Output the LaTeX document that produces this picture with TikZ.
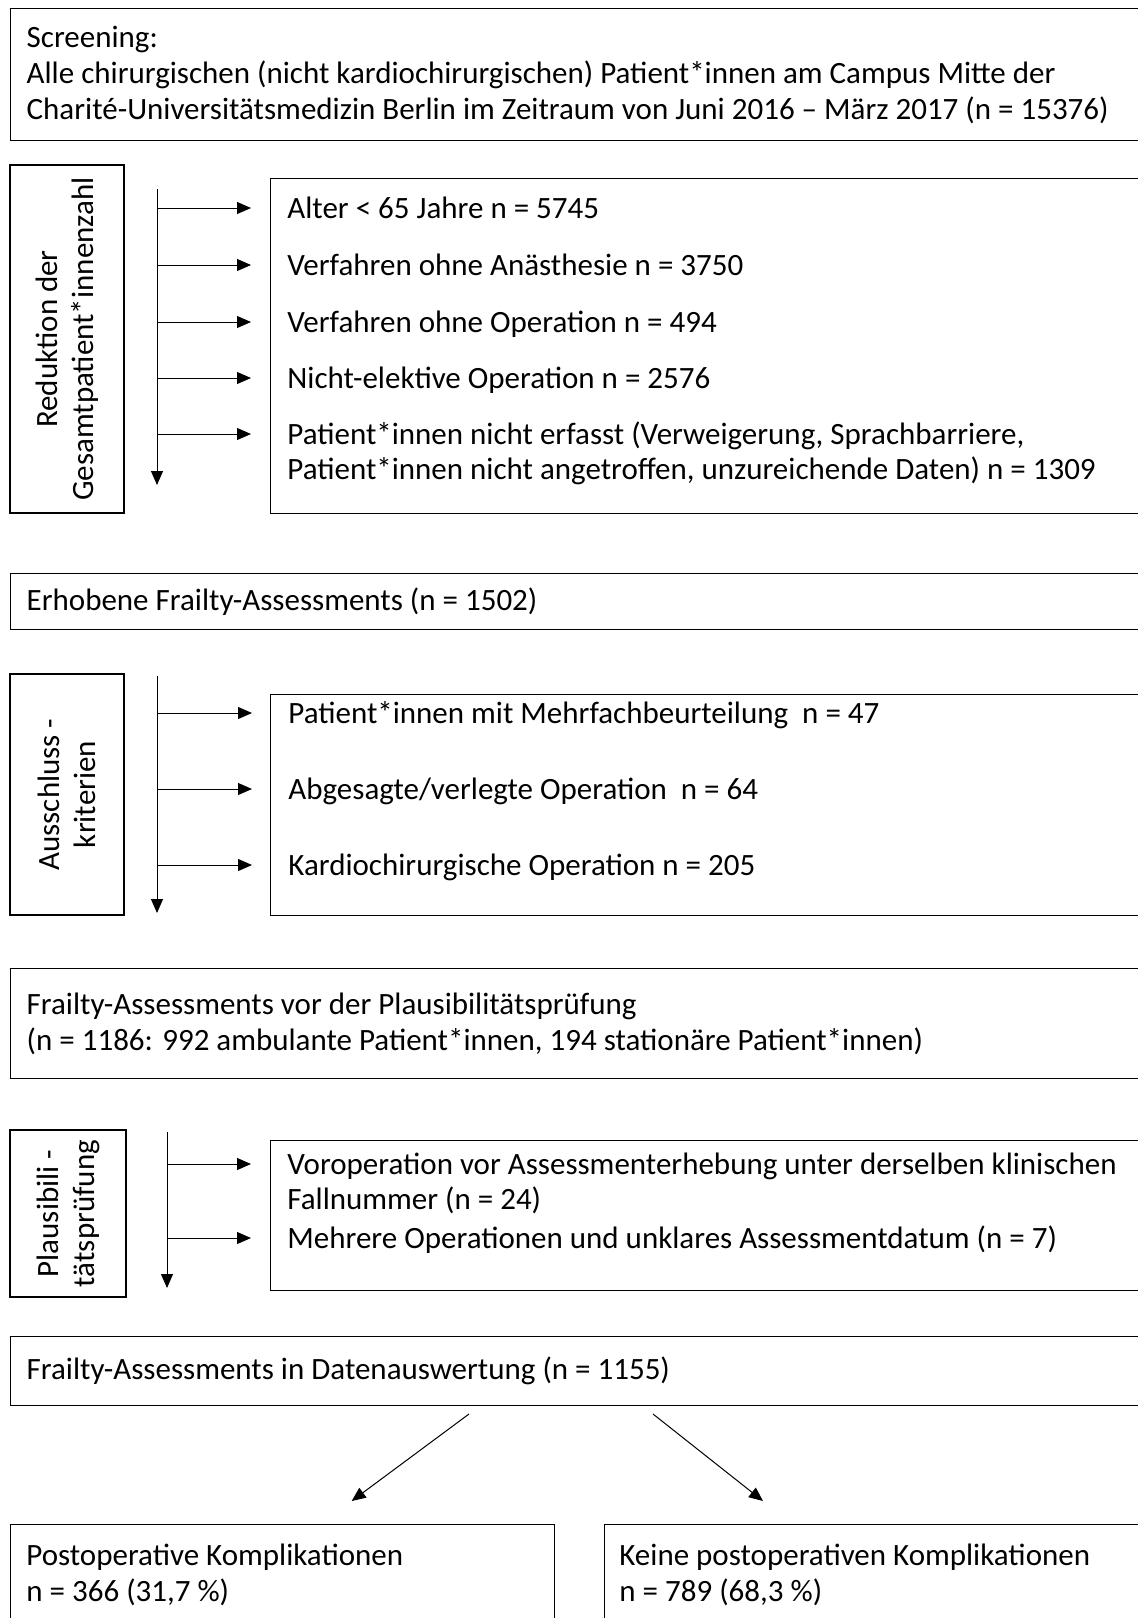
\documentclass[tikz,border=0pt]{standalone}
\usepackage{fontspec}
\setmainfont{Carlito}
\usepackage{tikz}
\usetikzlibrary{arrows.meta,positioning,calc}

\begin{document}
\begin{tikzpicture}[x=0.5pt, y=-0.5pt,
    font=\fontsize{15.5}{18}\selectfont,
    box/.style={draw, line width=0.7pt, anchor=north west, inner xsep=8pt,
        align=flush left, minimum width=600pt, text width=584pt},
    frame/.style={draw, line width=0.7pt, anchor=north west, inner sep=0pt},
    side/.style={draw, line width=0.7pt, rotate=90, align=center, inner sep=0pt},
    item/.style={anchor=west, inner sep=0pt, text height=12pt, text depth=1.5pt},
    arr/.style={-{Triangle[length=7pt,width=6pt]}, line width=0.5pt},
    feed/.style={arr, shorten >=18pt}]

    \useasboundingbox (0,0) rectangle (1138,1618);
    \clip (0,0) rectangle (1138,1618);

    % Screening
    \node[box, minimum height=66pt] (screen) at (10,8)
        {Screening:\\
         Alle chirurgischen (nicht kardiochirurgischen) Patient*innen am Campus Mitte der\\
         Charité-Universitätsmedizin Berlin im Zeitraum von Juni 2016 – März 2017 (n = 15376)};

    % Reduktion
    \node[side, minimum width=174pt, minimum height=57pt] (redlab) at (67,339)
        {Reduktion der\\Gesamtpatient*innenzahl};
    \coordinate (trA) at (157,189);
    \coordinate (trAend) at (157,485);
    \draw[arr] (trA) -- (trAend);
    \node[frame, minimum width=450pt, minimum height=167.5pt] (exA) at (270,178) {};
    \node[item] (a1) at (287,208) {Alter < 65 Jahre n = 5745};
    \node[item] (a2) at (287,265) {Verfahren ohne Anästhesie n = 3750};
    \node[item] (a3) at (287,322) {Verfahren ohne Operation n = 494};
    \node[item] (a4) at (287,378) {Nicht-elektive Operation n = 2576};
    \node[item] (a5) at (287,434) {Patient*innen nicht erfasst (Verweigerung, Sprachbarriere,};
    \node[item] (a5b) at (287,469) {Patient*innen nicht angetroffen, unzureichende Daten) n = 1309};
    \foreach \n in {a1,a2,a3,a4,a5}
        \draw[feed] (trA |- \n.west) -- (\n.west);

    % Erhobene Assessments
    \node[box, minimum height=28pt] (frail) at (10,573)
        {Erhobene Frailty-Assessments (n = 1502)};

    % Ausschluss
    \node[side, minimum width=120.5pt, minimum height=57pt] (exlab) at (67,794.5)
        {Ausschluss -\\kriterien};
    \coordinate (trB) at (157,676);
    \coordinate (trBend) at (157,913);
    \draw[arr] (trB) -- (trBend);
    \node[frame, minimum width=450pt, minimum height=110.5pt] (exB) at (270,694) {};
    \node[item] (b1) at (288,713) {Patient*innen mit Mehrfachbeurteilung~ n = 47};
    \node[item] (b2) at (288,789) {Abgesagte/verlegte Operation~ n = 64};
    \node[item] (b3) at (288,865) {Kardiochirurgische Operation n = 205};
    \foreach \n in {b1,b2,b3}
        \draw[feed] (trB |- \n.west) -- (\n.west);

    % vor Plausibilitaet
    \node[box, minimum height=55pt] (prior) at (10,968)
        {Frailty-Assessments vor der Plausibilitätsprüfung\\
         (n = 1186: 992 ambulante Patient*innen, 194 stationäre Patient*innen)};

    % Plausibilitaet
    \node[side, minimum width=83.5pt, minimum height=58pt] (plaulab) at (68,1213.5)
        {Plausibili -\\tätsprüfung};
    \coordinate (trC) at (167,1132);
    \coordinate (trCend) at (167,1288);
    \draw[arr] (trC) -- (trCend);
    \node[frame, minimum width=450pt, minimum height=75pt] (exC) at (270,1140) {};
    \node[item] (c1) at (287,1164) {Voroperation vor Assessmenterhebung unter derselben klinischen};
    \node[item] (c1b) at (287,1199) {Fallnummer (n = 24)};
    \node[item] (c2) at (287,1238) {Mehrere Operationen und unklares Assessmentdatum (n = 7)};
    \foreach \n in {c1,c2}
        \draw[feed] (trC |- \n.west) -- (\n.west);

    % Datenauswertung
    \node[box, minimum height=34.5pt] (final) at (10,1336)
        {Frailty-Assessments in Datenauswertung (n = 1155)};

    % Komplikationen
    \node[frame, minimum width=272pt, minimum height=100pt] (post) at (10,1524) {};
    \node[anchor=north west, align=left, inner sep=0pt] (postTxt) at (26,1544)
        {Postoperative Komplikationen\\n = 366 (31,7 \%)};
    \node[frame, minimum width=300pt, minimum height=100pt] (nopost) at (604,1524) {};
    \node[anchor=north west, align=left, inner sep=0pt] (nopostTxt) at (619,1544)
        {Keine postoperativen Komplikationen\\n = 789 (68,3 \%)};

    \coordinate (spL) at (469,1414);
    \coordinate (spR) at (653,1414);
    \draw[arr] (spL) -- ([shift={(34.5pt,11.5pt)}]post.north);
    \draw[arr] (spR) -- ([shift={(79.5pt,11.5pt)}]nopost.north west);
\end{tikzpicture}
\end{document}
